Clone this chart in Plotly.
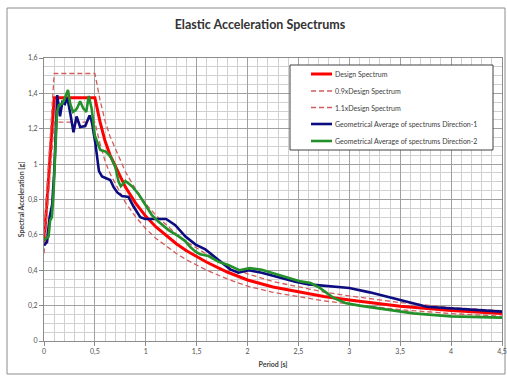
import plotly.graph_objects as go

# ---- data ----
design_T = [0.0, 0.1, 0.5, 0.55, 0.6, 0.65, 0.7, 0.8, 0.9, 1.0, 1.1, 1.2, 1.3, 1.4, 1.5, 1.6, 1.8, 2.0, 2.25, 2.5, 2.75, 3.0, 3.5, 4.0, 4.5]
design_Sa = [0.55, 1.375, 1.375, 1.24, 1.13, 1.05, 0.99, 0.87, 0.78, 0.705, 0.645, 0.595, 0.55, 0.51, 0.475, 0.445, 0.39, 0.345, 0.305, 0.277, 0.252, 0.232, 0.197, 0.172, 0.155]
lower_Sa = [0.495, 1.2375, 1.2375, 1.116, 1.017, 0.945, 0.891, 0.783, 0.702, 0.635, 0.58, 0.536, 0.495, 0.459, 0.428, 0.4, 0.351, 0.31, 0.275, 0.249, 0.227, 0.209, 0.177, 0.155, 0.14]
upper_Sa = [0.605, 1.5125, 1.5125, 1.364, 1.243, 1.155, 1.089, 0.957, 0.858, 0.776, 0.71, 0.655, 0.605, 0.561, 0.523, 0.49, 0.429, 0.38, 0.336, 0.305, 0.277, 0.255, 0.217, 0.189, 0.171]

dir1_T = [0.0, 0.03, 0.055, 0.08, 0.1, 0.115, 0.13, 0.157, 0.18, 0.205, 0.23, 0.26, 0.29, 0.32, 0.355, 0.405, 0.448, 0.47, 0.504, 0.54, 0.57, 0.61, 0.651, 0.684, 0.72, 0.766, 0.83, 0.88, 0.946, 0.995, 1.2, 1.29, 1.39, 1.49, 1.585, 1.715, 1.83, 1.91, 2.01, 2.14, 2.3, 2.47, 2.6, 2.8, 3.0, 3.2, 3.35, 3.5, 3.76, 4.0, 4.25, 4.5]
dir1_Sa = [0.54, 0.56, 0.70, 0.77, 0.95, 1.15, 1.39, 1.27, 1.35, 1.34, 1.375, 1.28, 1.18, 1.27, 1.21, 1.215, 1.275, 1.24, 1.12, 0.96, 0.93, 0.92, 0.91, 0.87, 0.84, 0.82, 0.815, 0.76, 0.70, 0.69, 0.69, 0.655, 0.59, 0.545, 0.518, 0.458, 0.405, 0.386, 0.40, 0.386, 0.36, 0.335, 0.32, 0.31, 0.30, 0.275, 0.255, 0.232, 0.194, 0.185, 0.178, 0.166]

dir2_T = [0.0, 0.045, 0.06, 0.078, 0.094, 0.11, 0.127, 0.147, 0.18, 0.21, 0.235, 0.258, 0.285, 0.31, 0.324, 0.355, 0.386, 0.415, 0.44, 0.468, 0.5, 0.553, 0.61, 0.655, 0.7, 0.733, 0.755, 0.8, 0.864, 0.93, 0.995, 1.06, 1.126, 1.224, 1.32, 1.388, 1.44, 1.49, 1.535, 1.617, 1.715, 1.81, 1.92, 2.02, 2.14, 2.27, 2.4, 2.52, 2.62, 2.71, 2.84, 2.96, 3.1, 3.3, 3.63, 4.0, 4.5]
dir2_Sa = [0.57, 0.59, 0.68, 0.70, 0.84, 1.05, 1.29, 1.333, 1.343, 1.38, 1.42, 1.34, 1.295, 1.305, 1.315, 1.355, 1.315, 1.295, 1.385, 1.315, 1.16, 1.08, 1.07, 1.04, 0.985, 0.90, 0.875, 0.905, 0.875, 0.83, 0.768, 0.712, 0.674, 0.627, 0.593, 0.565, 0.53, 0.505, 0.49, 0.48, 0.448, 0.43, 0.40, 0.412, 0.403, 0.38, 0.354, 0.337, 0.328, 0.30, 0.245, 0.215, 0.20, 0.182, 0.156, 0.139, 0.132]

series_names = ["Design Spectrum", "0.9xDesign Spectrum", "1.1xDesign Spectrum",
                "Geometrical Average of spectrums Direction-1",
                "Geometrical Average of spectrums Direction-2"]

x_tickvals = [0, 0.5, 1, 1.5, 2, 2.5, 3, 3.5, 4, 4.5]
x_ticktext = ["0", "0,5", "1", "1,5", "2", "2,5", "3", "3,5", "4", "4,5"]
y_tickvals = [0, 0.2, 0.4, 0.6, 0.8, 1.0, 1.2, 1.4, 1.6]
y_ticktext = ["0", "0,2", "0,4", "0,6", "0,8", "1", "1,2", "1,4", "1,6"]

FONT = "Lato, Open Sans, sans-serif"
RED, DASH, BLUE, GREEN = "#ff0000", "#d45c5c", "#0c0c80", "#23902a"
styles = [dict(color=RED, width=3), dict(color=DASH, width=1.3, dash="5px,3px"),
          dict(color=DASH, width=1.3, dash="5px,3px"), dict(color=BLUE, width=2.6),
          dict(color=GREEN, width=2.6)]
xs = [design_T, design_T, design_T, dir1_T, dir2_T]
ys = [design_Sa, lower_Sa, upper_Sa, dir1_Sa, dir2_Sa]

fig = go.Figure()
for name, st, x, y in zip(series_names, styles, xs, ys):
    fig.add_trace(go.Scatter(x=x, y=y, mode="lines", name=name, line=st, showlegend=False))

L, R, T, B = 44, 5, 58, 35
W, H = 507, 376
pw, ph = W - L - R, H - T - B


def px(x):
    return (x - L) / pw


def py(y):
    return (H - B - y) / ph


shapes = [dict(type="rect", xref="paper", yref="paper",
               x0=px(7), x1=px(505), y0=py(374), y1=py(8),
               line=dict(color="#8c8c8c", width=1), fillcolor="rgba(0,0,0,0)", layer="below"),
          dict(type="rect", xref="paper", yref="paper",
               x0=px(290), x1=px(493), y0=py(150), y1=py(65),
               line=dict(color="#404040", width=1), fillcolor="white", layer="above")]
annotations = []
legend_y = [74, 91, 107.5, 124, 141]
for name, st, yy in zip(series_names, styles, legend_y):
    line = dict(color=st["color"], width=st["width"])
    if "dash" in st:
        line["dash"] = st["dash"]
    shapes.append(dict(type="line", xref="paper", yref="paper",
                       x0=px(311), x1=px(332), y0=py(yy), y1=py(yy), line=line, layer="above"))
    annotations.append(dict(text=name, xref="paper", yref="paper", x=px(333), y=py(yy),
                            xanchor="left", yanchor="middle", showarrow=False,
                            font=dict(family=FONT, size=7, color="#404040")))

fig.update_layout(
    width=W, height=H,
    margin=dict(l=L, r=R, t=T, b=B, autoexpand=False),
    paper_bgcolor="white", plot_bgcolor="white",
    font=dict(family=FONT, size=7, color="#404040"),
    title=dict(text="<b>Elastic Acceleration Spectrums</b>", x=260 / W, xanchor="center",
               y=1 - 25 / H, yanchor="middle", font=dict(family=FONT, size=12.5, color="#333333")),
    showlegend=False,
    xaxis=dict(range=[0, 4.5], tickvals=x_tickvals, ticktext=x_ticktext, automargin=False,
               showgrid=True, gridcolor="#a0a0a0", gridwidth=1,
               minor=dict(dtick=0.1, showgrid=True, gridcolor="#d0d0d0", gridwidth=1),
               showline=True, linecolor="#8c8c8c", linewidth=1, mirror=True,
               ticks="outside", ticklen=4, tickcolor="#8c8c8c", zeroline=False,
               title=dict(text="<b>Period [s]</b>", font=dict(size=7, color="#404040"), standoff=6),
               tickfont=dict(size=7, color="#505050")),
    yaxis=dict(range=[0, 1.6], tickvals=y_tickvals, ticktext=y_ticktext, automargin=False,
               showgrid=True, gridcolor="#a0a0a0", gridwidth=1,
               minor=dict(dtick=0.05, showgrid=True, gridcolor="#d0d0d0", gridwidth=1),
               showline=True, linecolor="#8c8c8c", linewidth=1, mirror=True,
               ticks="outside", ticklen=4, tickcolor="#8c8c8c", zeroline=False,
               title=dict(text="<b>Spectral Acceleration [g]</b>", font=dict(size=7, color="#404040"), standoff=2),
               tickfont=dict(size=7, color="#505050")),
    shapes=shapes,
    annotations=annotations,
)

fig.write_html("out.html", config={"displayModeBar": False},
               post_script="document.body.style.margin='0';document.body.style.overflow='hidden';")
